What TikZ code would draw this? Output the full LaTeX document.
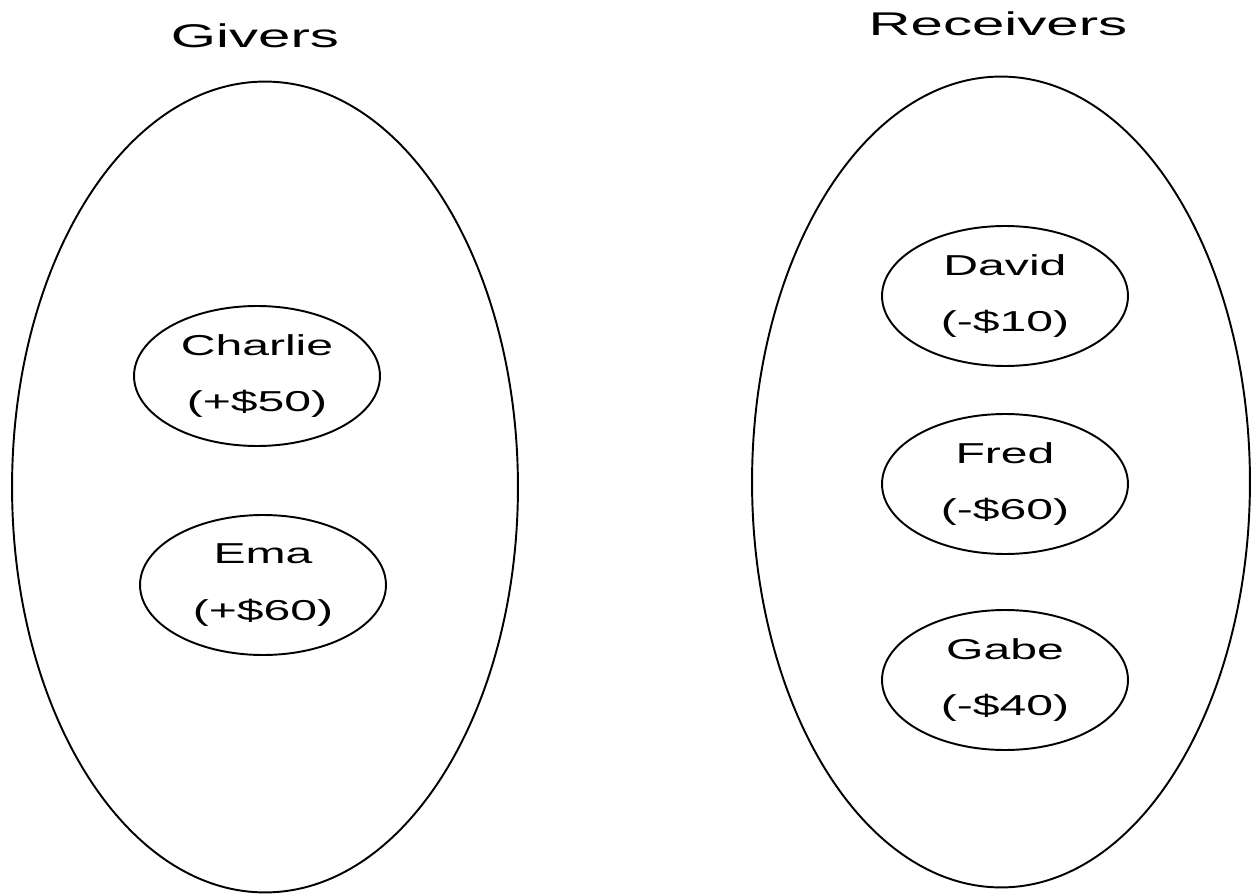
\documentclass[tikz,border=0pt]{standalone}
\usepackage{fontspec}
\setmainfont{Liberation Sans}
\usetikzlibrary{shapes.geometric}
\newcommand\stx[1]{\scalebox{1.67}[1]{#1}}
\newcommand\sttl[1]{\scalebox{1.77}[1]{#1}}
\begin{document}
\begin{tikzpicture}[x=0.02cm,y=-0.02cm,
  group/.style={draw,ellipse,line width=1.1pt,inner sep=0pt},
  person/.style={draw,ellipse,line width=1.1pt,inner sep=0pt,minimum width=4.92cm,minimum height=2.8cm,
    align=center,font=\fontsize{16.4}{32}\selectfont},
  title/.style={anchor=base,font=\fontsize{18.7}{22}\selectfont}]
\useasboundingbox[fill=white] (0,0) rectangle (1255,895);
\node[title] (tg) at (255,48) {\sttl{Givers}};
\node[title] (tr) at (998,36) {\sttl{Receivers}};
\node[group,minimum width=10.12cm,minimum height=16.22cm] (givers) at (265,487) {};
\node[group,minimum width=9.96cm,minimum height=16.22cm] (receivers) at (1001,482) {};
\node[person] (charlie) at (257,376) {\stx{Charlie}\\\stx{(+\$50)}};
\node[person] (ema) at (263,585) {\stx{Ema}\\\stx{(+\$60)}};
\node[person] (david) at (1005,296) {\stx{David}\\\stx{(-\$10)}};
\node[person] (fred) at (1005,484) {\stx{Fred}\\\stx{(-\$60)}};
\node[person] (gabe) at (1005,680) {\stx{Gabe}\\\stx{(-\$40)}};
\end{tikzpicture}
\end{document}
